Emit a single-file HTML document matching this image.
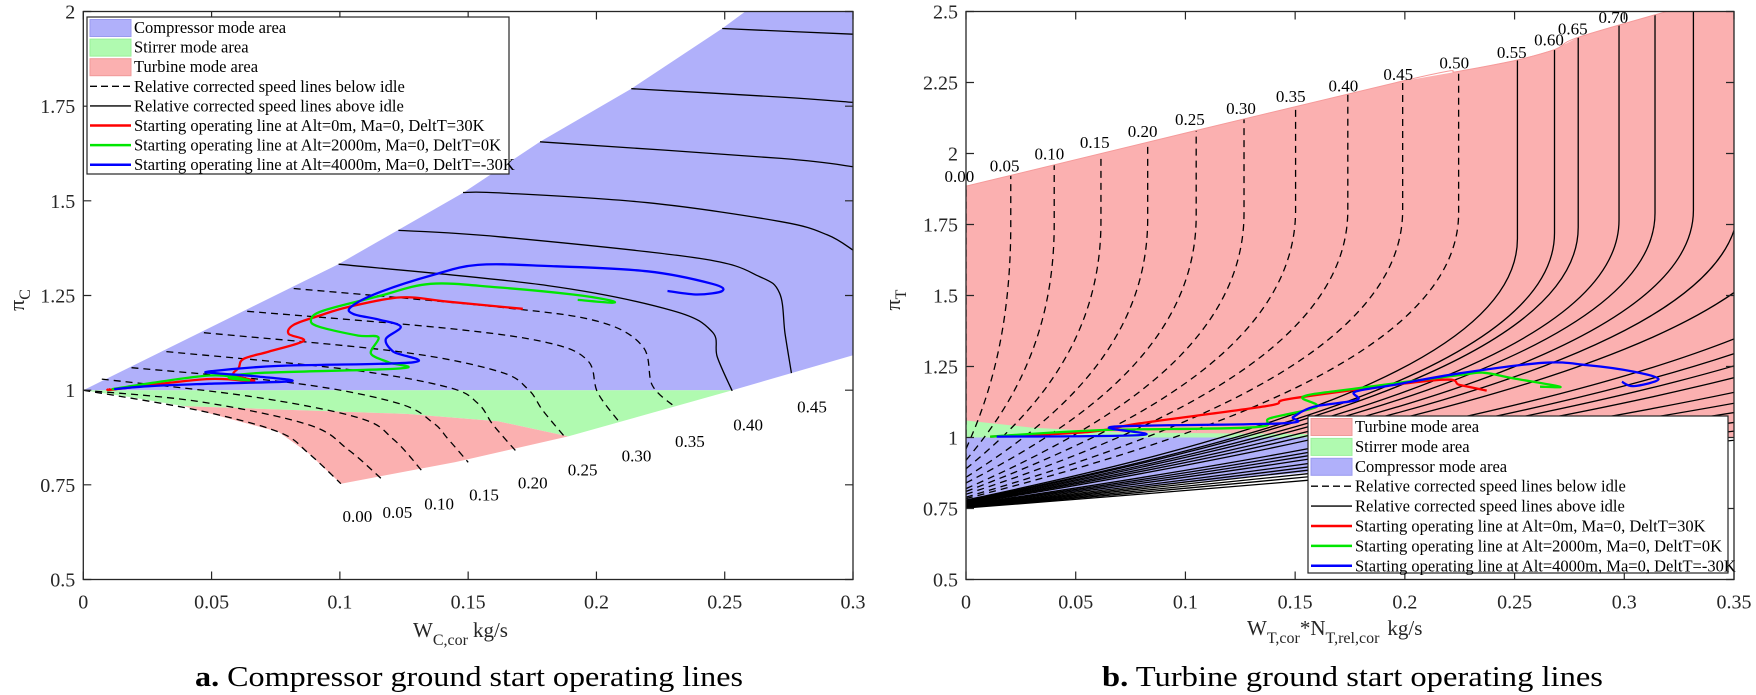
<!DOCTYPE html>
<html><head><meta charset="utf-8"><style>
html,body{margin:0;padding:0;background:#fff;}
svg{display:block;font-family:"Liberation Serif",serif;}
</style></head><body>
<svg id="fig" width="1756" height="695" viewBox="0 0 1756 695" xmlns="http://www.w3.org/2000/svg">
<defs>
<clipPath id="clipL"><rect x="83.3" y="11.5" width="769.7" height="568"/></clipPath>
<clipPath id="clipR"><rect x="966" y="11.5" width="768" height="568"/></clipPath>
</defs>
<g id="left"></g>
<g id="right"></g>
<text x="195" y="686" font-size="29" textLength="548" lengthAdjust="spacingAndGlyphs"><tspan font-weight="bold">a.</tspan>  Compressor ground start operating lines</text>
<text x="1102" y="686" font-size="29" textLength="501" lengthAdjust="spacingAndGlyphs"><tspan font-weight="bold">b.</tspan>  Turbine ground start operating lines</text>
</svg>
<script>
// ---------- LEFT (compressor) data ----------
const lXTicks=[0,0.05,0.1,0.15,0.2,0.25,0.3];
const lXTickLabels=['0','0.05','0.1','0.15','0.2','0.25','0.3'];
const lYTicks=[0.5,0.75,1,1.25,1.5,1.75,2];
const lYTickLabels=['0.5','0.75','1','1.25','1.5','1.75','2'];
const lBlueArea=[[0,1],[0.0995,1.333],[0.148,1.521],[0.178,1.656],[0.2136,1.796],[0.249,1.955],[0.258,2.0],[0.3,2.0],[0.3,1.092],[0.253,1.0]];
const lGreenArea=[[0,1],[0.253,1],[0.189,0.878],[0.1616,0.918],[0.1266,0.937],[0.039,0.958],[0.02,0.98]];
const lPinkArea=[[0.039,0.958],[0.1266,0.937],[0.1616,0.918],[0.189,0.878],[0.145,0.81],[0.1004,0.753],[0.0878,0.8332],[0.0761,0.8897],[0.0451,0.9463]];
const lDashLines=[
 [[0,1],[0.0451,0.9463],[0.0761,0.8897],[0.0878,0.8332],[0.1004,0.7531]],
 [[0,1],[0.0451,0.9698],[0.0878,0.9086],[0.1033,0.8426],[0.116,0.7672]],
 [[0.0072,1.0292],[0.0645,0.984],[0.1072,0.9274],[0.1208,0.8709],[0.1321,0.786]],
 [[0.0188,1.0594],[0.0839,1.017],[0.1228,0.9651],[0.1364,0.9133],[0.1422,0.8709],[0.15,0.8096]],
 [[0.0324,1.1018],[0.1033,1.0547],[0.1422,1.0075],[0.1538,0.9651],[0.1597,0.9086],[0.1684,0.8407]],
 [[0.047,1.1517],[0.1228,1.1018],[0.1616,1.05],[0.1733,1.0028],[0.1791,0.9463],[0.1878,0.8756]],
 [[0.0639,1.2083],[0.1422,1.163],[0.181,1.1254],[0.1966,1.0782],[0.2005,0.9934],[0.2092,0.9133]],
 [[0.082,1.2686],[0.1616,1.2196],[0.2005,1.1819],[0.218,1.1159],[0.2218,1.0123],[0.2306,0.9557]]
];
const lSolidLines=[
 [[0.0995,1.3327],[0.181,1.2762],[0.2296,1.2102],[0.2451,1.154],[0.2471,1.0877],[0.2529,0.998]],
 [[0.1228,1.422],[0.1623,1.405],[0.2402,1.348],[0.2636,1.3],[0.2714,1.256],[0.2735,1.15],[0.276,1.045]],
 [[0.148,1.522],[0.1623,1.521],[0.22,1.495],[0.272,1.445],[0.29,1.41],[0.3,1.37]],
 [[0.178,1.656],[0.272,1.612],[0.3,1.59]],
 [[0.2136,1.796],[0.272,1.774],[0.3,1.76]],
 [[0.249,1.955],[0.3,1.94]]
];
const lSpeedLabels=['0.00','0.05','0.10','0.15','0.20','0.25','0.30','0.35','0.40','0.45'];
const lSpeedLabelX=[0.1068,0.1224,0.1387,0.1562,0.1752,0.1946,0.2156,0.2364,0.2591,0.284];
const lSpeedLabelY=[0.668,0.678,0.701,0.725,0.756,0.791,0.828,0.866,0.909,0.957];
const lRed=[[0.0101,1.0028],[0.013,1.0028],[0.048,1.0292],[0.0664,1.0236],[0.0587,1.0405],[0.0606,1.0594],[0.0625,1.0829],[0.0723,1.1018],[0.0859,1.1301],[0.08,1.1489],[0.082,1.1725],[0.0917,1.196],[0.1033,1.2196],[0.1237,1.2451],[0.1422,1.2337],[0.1713,1.2149]];
const lGreen=[[0.0111,1.0028],[0.049,1.0386],[0.0645,1.0264],[0.0567,1.033],[0.0684,1.0452],[0.1237,1.0575],[0.1189,1.0735],[0.1121,1.0971],[0.115,1.1395],[0.1072,1.1442],[0.0917,1.1678],[0.0888,1.1866],[0.0936,1.2102],[0.115,1.2479],[0.1354,1.2809],[0.1616,1.2714],[0.1908,1.2526],[0.2043,1.2385],[0.2063,1.2309],[0.1927,1.2385]];
const lBlue=[[0.012,1.0028],[0.0256,1.0104],[0.049,1.017],[0.081,1.0236],[0.0684,1.0358],[0.0509,1.0452],[0.0499,1.05],[0.0761,1.0641],[0.1286,1.0735],[0.1208,1.1018],[0.1179,1.1348],[0.1237,1.1678],[0.115,1.1866],[0.1053,1.2008],[0.1043,1.2196],[0.115,1.2573],[0.1364,1.3044],[0.1538,1.3308],[0.181,1.328],[0.2199,1.3139],[0.2451,1.2809],[0.249,1.262],[0.2393,1.2526],[0.2277,1.262]];

// ---------- RIGHT (turbine) data ----------
const rXTicks=[0,0.05,0.1,0.15,0.2,0.25,0.3,0.35];
const rXTickLabels=['0','0.05','0.1','0.15','0.2','0.25','0.3','0.35'];
const rYTicks=[0.5,0.75,1,1.25,1.5,1.75,2,2.25,2.5];
const rYTickLabels=['0.5','0.75','1','1.25','1.5','1.75','2','2.25','2.5'];
const rTopBoundary=[[0,1.885],[0.1978,2.253],[0.2245,2.289],[0.251,2.329],[0.2685,2.367],[0.279,2.409],[0.3193,2.5]];
const rGreenArea=[[0,1],[0,1.06],[0.03,1.035],[0.07,1.018],[0.16,1.012],[0.16,1.0]];
const rBlueArea=[[0,1],[0.16,1],[0.16,0.88],[0.03,0.795],[0,0.75]];
const rLineVertX=[0,0.0204,0.0402,0.0615,0.0828,0.1049,0.1267,0.1502,0.174,0.199,0.2245,0.2513,0.2682,0.279,0.2976,0.314,0.3315,0.352,0.38,0.427,0.45,0.473,0.5,0.543,0.583,0.625,0.68,0.74,0.82];
const rLineKneeY=[1.885,1.75,1.75,1.76,1.77,1.78,1.79,1.8,1.8,1.8,1.79,1.7,1.72,1.74,1.766,1.79,1.8,1.82,1.85,1.85,1.85,1.85,1.85,1.85,1.85,1.85,1.85,1.85,1.85];
const rLineFanY=[0.75,0.96,0.92,0.89,0.86,0.84,0.82,0.81,0.8,0.79,0.785,0.78,0.778,0.776,0.774,0.772,0.77,0.768,0.766,0.764,0.762,0.76,0.758,0.757,0.756,0.755,0.754,0.753,0.752];
const rDashedCount=11;
const rSpeedLabels=['0.00','0.05','0.10','0.15','0.20','0.25','0.30','0.35','0.40','0.45','0.50','0.55','0.60','0.65','0.70'];
const rSpeedLabelX=[-0.003,0.0176,0.038,0.0587,0.0805,0.102,0.1253,0.148,0.172,0.197,0.2225,0.2487,0.2657,0.2765,0.295];
const rSpeedLabelY=[1.92,1.958,2.0,2.04,2.08,2.122,2.16,2.203,2.24,2.28,2.32,2.358,2.402,2.44,2.48];
const rRed=[[0.011,1.003],[0.0565,1.02],[0.0793,1.05],[0.1371,1.111],[0.1492,1.138],[0.2144,1.202],[0.2251,1.185],[0.2373,1.165]];
const rGreen=[[0.011,1.003],[0.0611,1.026],[0.131,1.036],[0.1386,1.068],[0.1598,1.108],[0.1537,1.144],[0.1781,1.173],[0.2251,1.22],[0.2358,1.228],[0.2495,1.208],[0.2707,1.179],[0.2616,1.179]];
const rBlue=[[0.014,1.003],[0.0808,1.009],[0.0672,1.038],[0.1446,1.05],[0.1492,1.073],[0.1583,1.108],[0.1781,1.132],[0.1773,1.161],[0.1948,1.185],[0.2251,1.226],[0.2631,1.263],[0.2829,1.255],[0.3042,1.232],[0.3156,1.205],[0.3042,1.181],[0.2989,1.196]];

const legendLeft=['Compressor mode area','Stirrer mode area','Turbine mode area','Relative corrected speed lines below idle','Relative corrected speed lines above idle','Starting operating line at Alt=0m, Ma=0, DeltT=30K','Starting operating line at Alt=2000m, Ma=0, DeltT=0K','Starting operating line at Alt=4000m, Ma=0, DeltT=-30K'];
const legendRight=['Turbine mode area','Stirrer mode area','Compressor mode area','Relative corrected speed lines below idle','Relative corrected speed lines above idle','Starting operating line at Alt=0m, Ma=0, DeltT=30K','Starting operating line at Alt=2000m, Ma=0, DeltT=0K','Starting operating line at Alt=4000m, Ma=0, DeltT=-30K'];

const BLUEF='#b0b0fa',GREENF='#b0fab0',PINKF='#fbb0b0';
const NS='http://www.w3.org/2000/svg';
function mk(parent,tag,attrs){const e=document.createElementNS(NS,tag);for(const k in attrs)e.setAttribute(k,attrs[k]);parent.appendChild(e);return e;}
function lx(v){return 83.3+v*2565.7;} function ly(v){return 579.5-(v-0.5)*378.67;}
function rx(v){return 966+v*2194.3;} function ry(v){return 579.5-(v-0.5)*284;}
function poly(pts,fx,fy){return pts.map((p,i)=>(i?'L':'M')+fx(p[0]).toFixed(1)+','+fy(p[1]).toFixed(1)).join('')+'Z';}
function smooth(pts,fx,fy){const P=pts.map(p=>[fx(p[0]),fy(p[1])]);let d='M'+P[0][0].toFixed(1)+','+P[0][1].toFixed(1);
 for(let i=0;i<P.length-1;i++){const p0=P[i-1]||P[i],p1=P[i],p2=P[i+1],p3=P[i+2]||P[i+1];
  const c1=[p1[0]+(p2[0]-p0[0])/6,p1[1]+(p2[1]-p0[1])/6],c2=[p2[0]-(p3[0]-p1[0])/6,p2[1]-(p3[1]-p1[1])/6];
  d+='C'+c1[0].toFixed(1)+','+c1[1].toFixed(1)+' '+c2[0].toFixed(1)+','+c2[1].toFixed(1)+' '+p2[0].toFixed(1)+','+p2[1].toFixed(1);}
 return d;}
function topY(x){const B=rTopBoundary;for(let i=0;i<B.length-1;i++){if(x<=B[i+1][0]){const t=(x-B[i][0])/(B[i+1][0]-B[i][0]);return B[i][1]+t*(B[i+1][1]-B[i][1]);}}
 const a=B[B.length-2],b=B[B.length-1];return b[1]+(x-b[0])*(b[1]-a[1])/(b[0]-a[0]);}

function axes(g,x0,x1,y0,y1,xt,xl,yt,yl,fx,fy){
 const fr=mk(g,'rect',{x:x0,y:y1,width:x1-x0,height:y0-y1,fill:'none',stroke:'#262626','stroke-width':1.3});
 
 
 xt.forEach((v,i)=>{const X=fx(v);
  const t=mk(g,'path',{d:`M${X},${y0}v-8M${X},${y1}v8`,stroke:'#262626','stroke-width':1.2});
  
  
  const s=mk(g,'text',{x:X,y:y0+29,'font-size':20,'text-anchor':'middle',fill:'#262626'});s.textContent=xl[i];
  
  });
 yt.forEach((v,i)=>{const Y=fy(v);
  const t=mk(g,'path',{d:`M${x0},${Y}h8M${x1},${Y}h-8`,stroke:'#262626','stroke-width':1.2});
  
  
  const s=mk(g,'text',{x:x0-8,y:Y+7,'font-size':20,'text-anchor':'end',fill:'#262626'});s.textContent=yl[i];
  
  });
}
function legend(g,x,y,w,h,pitch,items,kinds){
 const b=mk(g,'rect',{x:x,y:y,width:w,height:h,fill:'#fff',stroke:'#262626','stroke-width':1.2});
 
 
 items.forEach((t,i)=>{const cy=y+10.5+i*pitch;const k=kinds[i];let sw;
  if(k[0]==='f'){sw=mk(g,'rect',{x:x+3,y:cy-8,width:41,height:17,fill:k[1],stroke:k[2],'stroke-width':1});}
  else{sw=mk(g,'line',{x1:x+3,y1:cy,x2:x+44,y2:cy,stroke:k[1],'stroke-width':k[0]==='o'?2.5:1.4,'stroke-dasharray':k[0]==='d'?'7,4':'none'});}
  
  
  const s=mk(g,'text',{x:x+47,y:cy+5.5,'font-size':16.5,fill:'#000'});s.textContent=t;
  
  });
}

// ----- left chart -----
(function(){
 const g=document.getElementById('left');
 const c=mk(g,'g',{'clip-path':'url(#clipL)'});
 [[lBlueArea,BLUEF,'compressor-mode-area'],[lGreenArea,GREENF,'stirrer-mode-area'],[lPinkArea,PINKF,'turbine-mode-area']].forEach(a=>{
  const p=mk(c,'path',{d:poly(a[0],lx,ly),fill:a[1],stroke:'none'});
  
  });
 lDashLines.forEach(L=>{const p=mk(c,'path',{d:smooth(L,lx,ly),fill:'none',stroke:'#000','stroke-width':1.3,'stroke-dasharray':'7,5'});
  
  });
 lSolidLines.forEach(L=>{const p=mk(c,'path',{d:smooth(L,lx,ly),fill:'none',stroke:'#000','stroke-width':1.3});
  
  });
 [[lRed,'#ff0000','operating-line-alt0'],[lGreen,'#00e600','operating-line-alt2000'],[lBlue,'#0000ff','operating-line-alt4000']].forEach(a=>{
  const p=mk(c,'path',{d:smooth(a[0],lx,ly),fill:'none',stroke:a[1],'stroke-width':2.3,'stroke-linejoin':'round'});
  
  });
 lSpeedLabels.forEach((t,i)=>{const s=mk(g,'text',{x:lx(lSpeedLabelX[i]),y:ly(lSpeedLabelY[i])+6,'font-size':17,'text-anchor':'middle'});s.textContent=t;
  
  });
 axes(g,83.3,853,579.5,11.5,lXTicks,lXTickLabels,lYTicks,lYTickLabels,lx,ly);
 legend(g,87,17,422,157,19.6,legendLeft,[['f',BLUEF,'#9a9af0'],['f',GREENF,'#9af09a'],['f',PINKF,'#f09a9a'],['d','#000'],['s','#000'],['o','#ff0000'],['o','#00e600'],['o','#0000ff']]);
 const yl=mk(g,'text',{transform:'translate(24,300) rotate(-90)','font-size':22,'text-anchor':'middle',fill:'#262626'});
 yl.innerHTML='π<tspan font-size="16" dy="6">C</tspan>';
 
 
 const xl=mk(g,'text',{x:413,y:637,'font-size':21,fill:'#262626'});
 xl.innerHTML='W<tspan font-size="16" dy="8">C,cor</tspan><tspan dy="-8" dx="5">kg/s</tspan>';
 
 
})();

// ----- right chart -----
(function(){
 const g=document.getElementById('right');
 const c=mk(g,'g',{'clip-path':'url(#clipR)'});
 const pinkPts=rTopBoundary.concat([[0.36,2.55],[0.36,1.0],[0,1.0]]);
 const pk=mk(c,'path',{d:poly(pinkPts,rx,ry),fill:PINKF,stroke:'none'});
 
 
 const gr=mk(c,'path',{d:poly(rGreenArea,rx,ry),fill:GREENF,stroke:'none'});
 
 
 const bl=mk(c,'path',{d:poly(rBlueArea,rx,ry),fill:BLUEF,stroke:'none'});
 
 
 rLineVertX.forEach((xv,i)=>{
  const y0=rLineFanY[i],yk=rLineKneeY[i],D=yk-y0,yt=topY(xv);
  const d=`M${rx(0)},${ry(y0)}C${rx(0.45*xv)},${ry(y0+0.2*D)} ${rx(xv)},${ry(y0+0.5*D)} ${rx(xv)},${ry(yk)}L${rx(xv)},${ry(yt)}`;
  const dashed=i<rDashedCount;
  const p=mk(c,'path',{d:d,fill:'none',stroke:'#000','stroke-width':1.3,'stroke-dasharray':dashed?'7,5':'none'});
  
  });
 const tb=mk(c,'path',{d:smooth(rTopBoundary,rx,ry),fill:'none',stroke:'#f59a9a','stroke-width':1});
 
 
 [[rRed,'#ff0000','operating-line-alt0'],[rGreen,'#00e600','operating-line-alt2000'],[rBlue,'#0000ff','operating-line-alt4000']].forEach(a=>{
  const p=mk(c,'path',{d:smooth(a[0],rx,ry),fill:'none',stroke:a[1],'stroke-width':2.3,'stroke-linejoin':'round'});
  
  });
 rSpeedLabels.forEach((t,i)=>{const s=mk(g,'text',{x:rx(rSpeedLabelX[i]),y:ry(rSpeedLabelY[i])+6,'font-size':17,'text-anchor':'middle'});s.textContent=t;
  
  });
 axes(g,966,1734,579.5,11.5,rXTicks,rXTickLabels,rYTicks,rYTickLabels,rx,ry);
 legend(g,1308,416,420,157,19.9,legendRight,[['f',PINKF,'#f09a9a'],['f',GREENF,'#9af09a'],['f',BLUEF,'#9a9af0'],['d','#000'],['s','#000'],['o','#ff0000'],['o','#00e600'],['o','#0000ff']]);
 const yl=mk(g,'text',{transform:'translate(900,300) rotate(-90)','font-size':22,'text-anchor':'middle',fill:'#262626'});
 yl.innerHTML='π<tspan font-size="16" dy="6">T</tspan>';
 
 
 const xl=mk(g,'text',{x:1247,y:635,'font-size':21,fill:'#262626'});
 xl.innerHTML='W<tspan font-size="16" dy="8">T,cor</tspan><tspan dy="-8">*N</tspan><tspan font-size="16" dy="8">T,rel,cor</tspan><tspan dy="-8" dx="8">kg/s</tspan>';
 
 
})();
</script>
</body></html>
